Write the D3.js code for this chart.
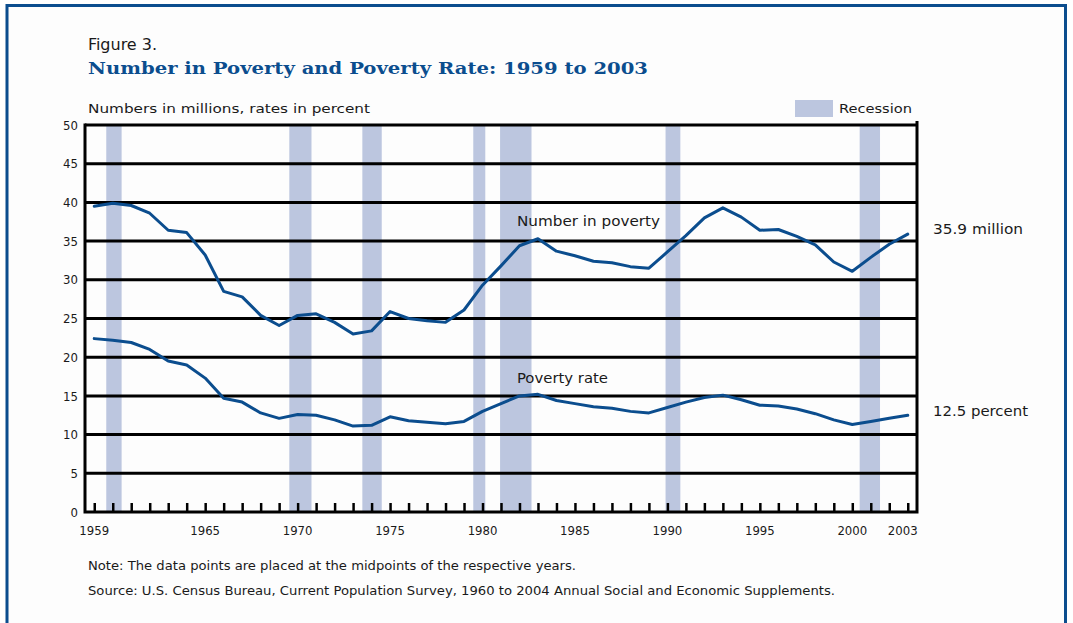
<!DOCTYPE html>
<html>
<head>
<meta charset="utf-8">
<script src="https://cdn.jsdelivr.net/npm/d3@7"></script>
<style>
  body { margin: 0; background: #fff; }
  svg text { font-family: "Liberation Sans Narrow", "DejaVu Sans Condensed", "Liberation Sans", sans-serif; fill: #1a1a1a; }
</style>
</head>
<body>
<div id="chart"></div>
<script>
// Data
const years = d3.range(1959, 2004);
const numberInPoverty = [39.5, 39.9, 39.6, 38.6, 36.4, 36.1, 33.2, 28.5, 27.8, 25.4,
  24.1, 25.4, 25.6, 24.5, 23.0, 23.4, 25.9, 25.0, 24.7, 24.5,
  26.1, 29.3, 31.8, 34.4, 35.3, 33.7, 33.1, 32.4, 32.2, 31.7,
  31.5, 33.6, 35.7, 38.0, 39.3, 38.1, 36.4, 36.5, 35.6, 34.5,
  32.3, 31.1, 32.9, 34.6, 35.9];
const povertyRate = [22.4, 22.2, 21.9, 21.0, 19.5, 19.0, 17.3, 14.7, 14.2, 12.8,
  12.1, 12.6, 12.5, 11.9, 11.1, 11.2, 12.3, 11.8, 11.6, 11.4,
  11.7, 13.0, 14.0, 15.0, 15.2, 14.4, 14.0, 13.6, 13.4, 13.0,
  12.8, 13.5, 14.2, 14.8, 15.1, 14.5, 13.8, 13.7, 13.3, 12.7,
  11.9, 11.3, 11.7, 12.1, 12.5];
const recessionStart = [1960.15, 1970.05, 1974.0, 1980.0, 1981.45, 1990.4, 2000.9];
const recessionEnd   = [1960.98, 1971.25, 1975.05, 1980.65, 1983.15, 1991.2, 2002.0];
const yTicks = [0, 5, 10, 15, 20, 25, 30, 35, 40, 45, 50];
const xLabelYears = [1959, 1965, 1970, 1975, 1980, 1985, 1990, 1995, 2000, 2003];
const xLabels = ["1959", "1965", "1970", "1975", "1980", "1985", "1990", "1995", "2000", "2003"];

const W = 1073, H = 623;
const blue = "#0b4d8e";

const svg = d3.select("#chart").append("svg")
  .attr("width", W).attr("height", H);

// frame
svg.append("rect").attr("x", 0).attr("y", 0).attr("width", W).attr("height", H).attr("fill", "#fff");
svg.append("path")
  .attr("d", `M7,${H + 5} V5.5 H1065.5 V${H + 5}`)
  .attr("fill", "#fdfdfd").attr("stroke", blue).attr("stroke-width", 3);

// scales: points at year midpoints
const x = d3.scaleLinear().domain([1959, 2004]).range([85, 917]);
const y = d3.scaleLinear().domain([0, 50]).range([512, 125]);

// text helper, stretched to the width seen in the figure
function label(tx, ty, str, size, len) {
  const t = svg.append("text").attr("x", tx).attr("y", ty)
    .style("font-size", size + "px").text(str);
  if (len) t.attr("textLength", len).attr("lengthAdjust", "spacingAndGlyphs");
  return t;
}

// titles
label(88, 50, "Figure 3.", 16, 69);
label(88, 74, "Number in Poverty and Poverty Rate:  1959 to 2003", 17, 560)
  .style("font-family", "'DejaVu Serif', 'Liberation Serif', serif")
  .style("font-weight", "bold")
  .style("fill", blue);
label(88, 113, "Numbers in millions, rates in percent", 13, 282);

// legend
svg.append("rect").attr("x", 795).attr("y", 100).attr("width", 38).attr("height", 17)
  .attr("fill", "#bcc6df");
label(839, 113, "Recession", 13, 73);

// recession bars
svg.append("g").selectAll("rect")
  .data(recessionStart.map((s, i) => [s, recessionEnd[i]]))
  .join("rect")
  .attr("x", d => x(d[0]))
  .attr("width", d => x(d[1]) - x(d[0]))
  .attr("y", y(50))
  .attr("height", y(0) - y(50))
  .attr("fill", "#bcc6df");

// horizontal grid
svg.append("g").selectAll("line")
  .data(yTicks.filter(d => d > 0))
  .join("line")
  .attr("x1", x(1959)).attr("x2", x(2004))
  .attr("y1", d => y(d)).attr("y2", d => y(d))
  .attr("stroke", "#000").attr("stroke-width", 3);

// y axis labels
const yAxis = d3.axisLeft(y).tickValues(yTicks).tickSize(0).tickPadding(7);
svg.append("g").attr("transform", `translate(${x(1959)},0)`)
  .call(yAxis)
  .call(g => g.select(".domain").remove())
  .call(g => g.selectAll("text").style("font-size", "13px")
    .style("font-family", "'Liberation Sans Narrow', 'DejaVu Sans Condensed', sans-serif")
    .attr("fill", "#1a1a1a"));

// x axis ticks at year midpoints (pointing up)
const xAxis = d3.axisTop(x).tickValues(years.map(d => d + 0.5)).tickSize(9).tickFormat("");
svg.append("g").attr("transform", `translate(0,${y(0)})`)
  .call(xAxis)
  .call(g => g.select(".domain").remove())
  .call(g => g.selectAll("line").attr("stroke", "#000").attr("stroke-width", 2.5));

// x labels
svg.append("g").selectAll("text")
  .data(xLabelYears)
  .join("text")
  .attr("x", (d, i) => x(d + 0.5) - (d === 2003 ? 5 : 0))
  .attr("y", 535)
  .attr("text-anchor", "middle")
  .style("font-size", "13px")
  .text((d, i) => xLabels[i]);

// axes frame: left, bottom, right
svg.append("path")
  .attr("d", `M${x(1959)},${y(50) - 1.5} V${y(0)} H${x(2004)} V${y(50) - 4}`)
  .attr("fill", "none").attr("stroke", "#000").attr("stroke-width", 3);

// series lines
const line = d3.line().x((d, i) => x(years[i] + 0.5)).y(d => y(d));
[numberInPoverty, povertyRate].forEach(s => {
  svg.append("path").datum(s)
    .attr("d", line)
    .attr("fill", "none").attr("stroke", blue)
    .attr("stroke-width", 3).attr("stroke-linejoin", "round").attr("stroke-linecap", "round");
});

// series labels
label(517, 226, "Number in poverty", 14, 143);
label(517, 383, "Poverty rate", 14, 91);
label(933, 234, "35.9 million", 14, 90);
label(933, 416, "12.5 percent", 14, 95);

// notes
label(88, 570, "Note:  The data points are placed at the midpoints of the respective years.", 12, 488);
label(88, 595, "Source:  U.S. Census Bureau, Current Population Survey, 1960 to 2004 Annual Social and Economic Supplements.", 12, 747);
</script>
</body>
</html>
